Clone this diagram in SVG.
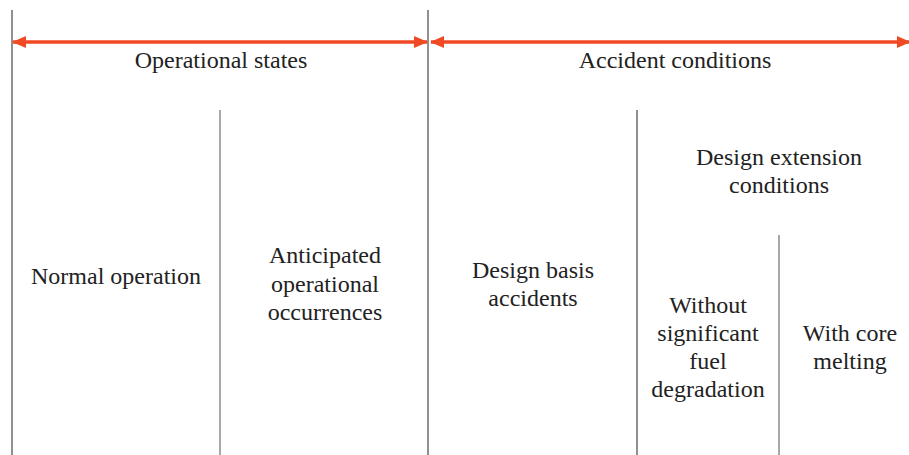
<svg xmlns="http://www.w3.org/2000/svg" width="909" height="455" viewBox="0 0 909 455">
<style>
text{font-family:"DejaVu Serif","Liberation Serif",serif;font-size:20px;fill:#222;text-anchor:middle}
.dk{stroke:#6b6b6b;stroke-width:1.5;fill:none}
.lt{stroke:#a8a8a8;stroke-width:2;fill:none}
.arr{stroke:#f04a25;stroke-width:3.5;fill:none}
</style>
<defs>
<marker id="ah" markerWidth="14" markerHeight="12" refX="13" refY="6" orient="auto-start-reverse" markerUnits="userSpaceOnUse">
<path d="M0,0 L14,6 L0,12 Z" fill="#f04a25"/>
</marker>
</defs>
<rect width="909" height="455" fill="#fff"/>
<g id="connectors">
<line class="dk" x1="12" y1="10" x2="12" y2="455"/>
<line class="dk" x1="428" y1="10" x2="428" y2="455"/>
<line class="lt" x1="220" y1="110" x2="220" y2="455"/>
<line class="dk" x1="637" y1="110" x2="637" y2="455"/>
<line class="lt" x1="779" y1="235" x2="779" y2="455"/>
<line class="arr" x1="13" y1="42" x2="427" y2="42" marker-start="url(#ah)" marker-end="url(#ah)"/>
<line class="arr" x1="431" y1="42" x2="910" y2="42" marker-start="url(#ah)" marker-end="url(#ah)"/>
</g>
<g id="operational-states"><text transform="translate(221,68) scale(1.2)" style="font-family:'Liberation Serif'">Operational states</text></g>
<g id="accident-conditions"><text transform="translate(675,68) scale(1.2)" style="font-family:'Liberation Serif'">Accident conditions</text></g>
<g id="normal-operation"><text transform="translate(116,284) scale(1.2)" style="font-family:'Liberation Serif'">Normal operation</text></g>
<g id="aoo"><text transform="translate(325,263) scale(1.2)" style="font-family:'Liberation Serif'">Anticipated</text><text transform="translate(325,292) scale(1.2)" style="font-family:'Liberation Serif'">operational</text><text transform="translate(325,320) scale(1.2)" style="font-family:'Liberation Serif'">occurrences</text></g>
<g id="dba"><text transform="translate(533,278) scale(1.2)" style="font-family:'Liberation Serif'">Design basis</text><text transform="translate(533,306) scale(1.2)" style="font-family:'Liberation Serif'">accidents</text></g>
<g id="dec"><text transform="translate(779,165) scale(1.2)" style="font-family:'Liberation Serif'">Design extension</text><text transform="translate(779,193) scale(1.2)" style="font-family:'Liberation Serif'">conditions</text></g>
<g id="without"><text transform="translate(708,313) scale(1.2)" style="font-family:'Liberation Serif'">Without</text><text transform="translate(708,341) scale(1.2)" style="font-family:'Liberation Serif'">significant</text><text transform="translate(708,369) scale(1.2)" style="font-family:'Liberation Serif'">fuel</text><text transform="translate(708,397) scale(1.2)" style="font-family:'Liberation Serif'">degradation</text></g>
<g id="with-core"><text transform="translate(850,341) scale(1.2)" style="font-family:'Liberation Serif'">With core</text><text transform="translate(850,369) scale(1.2)" style="font-family:'Liberation Serif'">melting</text></g>
</svg>
